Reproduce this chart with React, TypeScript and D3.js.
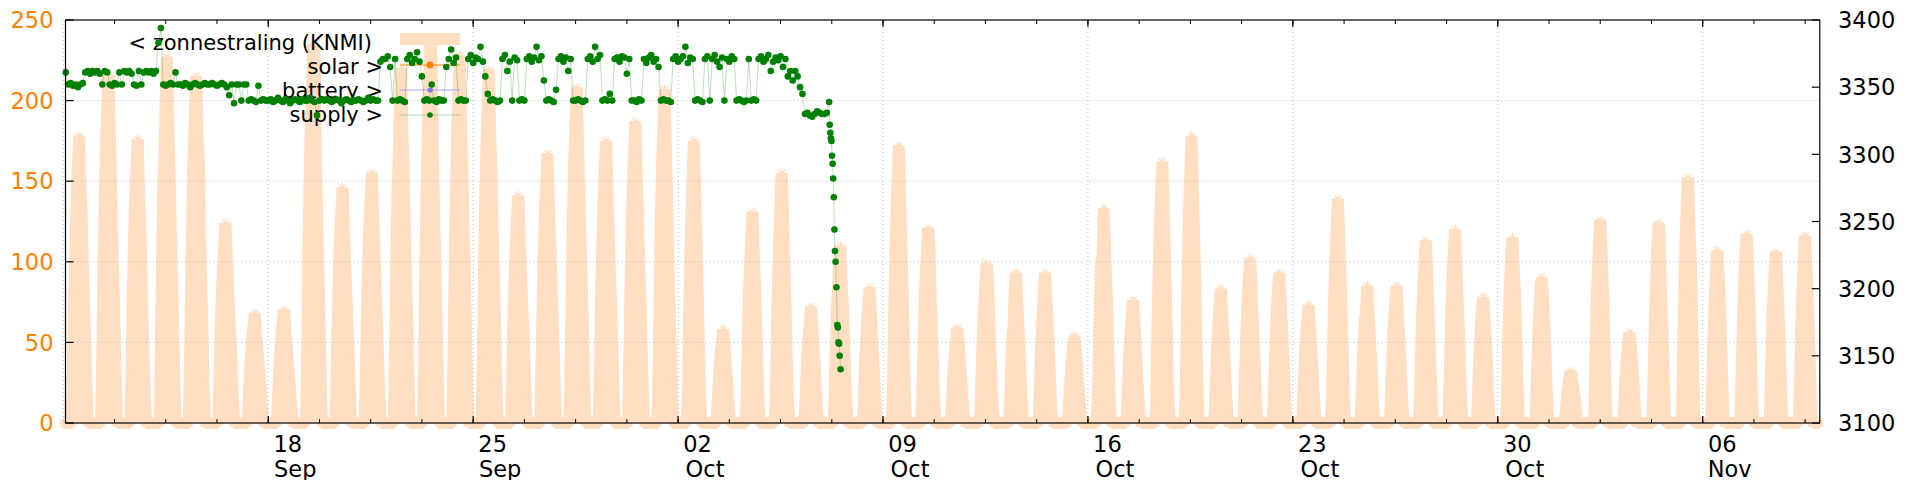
import React from "react";
import * as d3 from "d3";

const DAY = 86400000;
const HOUR = 3600000;
const T0 = Date.UTC(2023, 8, 11);
const T1 = Date.UTC(2023, 10, 10);

const leftTicks = [0, 50, 100, 150, 200, 250];
const rightTicks = [3100, 3150, 3200, 3250, 3300, 3350, 3400];
const gridWeeks = [
  Date.UTC(2023, 8, 11), Date.UTC(2023, 8, 18), Date.UTC(2023, 8, 25), Date.UTC(2023, 9, 2),
  Date.UTC(2023, 9, 9), Date.UTC(2023, 9, 16), Date.UTC(2023, 9, 23), Date.UTC(2023, 9, 30),
  Date.UTC(2023, 10, 6),
];
const dayLabels = ["", "18", "25", "02", "09", "16", "23", "30", "06"];
const monthLabels = ["", "Sep", "Sep", "Oct", "Oct", "Oct", "Oct", "Oct", "Nov"];
const legendLabels = ["< zonnestraling (KNMI)", "solar >", "battery >", "supply >"];

// KNMI radiation, hourly values for hours 07..20 of each day (Sep 11 .. Nov 9)
const SOLAR_START_HOUR = 7;
const solarDays: number[][] = [
  [0, 36, 80, 103, 142, 160, 178, 146, 132, 98, 74, 50, 21, 0],
  [0, 43, 97, 140, 173, 194, 216, 185, 151, 119, 91, 60, 26, 0],
  [0, 35, 79, 114, 141, 158, 176, 144, 123, 97, 60, 37, 15, 0],
  [0, 45, 102, 148, 162, 204, 227, 186, 159, 125, 95, 64, 27, 0],
  [0, 43, 97, 140, 172, 194, 215, 176, 167, 118, 90, 60, 26, 0],
  [0, 25, 56, 81, 99, 112, 124, 102, 87, 68, 53, 35, 15, 0],
  [0, 14, 31, 44, 54, 60, 68, 56, 48, 37, 29, 19, 8, 0],
  [0, 14, 32, 46, 56, 63, 70, 57, 49, 39, 29, 20, 8, 0],
  [0, 47, 106, 153, 188, 212, 235, 225, 165, 129, 99, 66, 28, 0],
  [0, 29, 66, 95, 117, 131, 146, 120, 102, 80, 61, 41, 18, 0],
  [0, 31, 70, 101, 124, 140, 155, 127, 109, 85, 65, 43, 19, 0],
  [0, 44, 99, 143, 165, 198, 220, 180, 154, 121, 92, 62, 26, 0],
  [0, 47, 106, 153, 188, 212, 235, 225, 165, 129, 99, 66, 28, 0],
  [0, 46, 103, 148, 182, 205, 228, 187, 160, 125, 96, 64, 27, 0],
  [0, 44, 99, 142, 175, 197, 219, 180, 153, 120, 92, 61, 26, 0],
  [0, 28, 63, 92, 113, 127, 141, 116, 99, 78, 59, 39, 17, 0],
  [0, 33, 75, 109, 134, 150, 167, 137, 117, 92, 70, 47, 20, 0],
  [0, 42, 94, 135, 166, 187, 208, 171, 146, 114, 87, 58, 25, 0],
  [0, 35, 79, 114, 140, 158, 175, 144, 123, 96, 74, 49, 21, 0],
  [0, 37, 84, 122, 150, 168, 187, 153, 131, 103, 79, 52, 22, 0],
  [0, 35, 88, 130, 162, 184, 207, 170, 140, 104, 75, 45, 15, 0],
  [0, 14, 61, 102, 131, 154, 175, 144, 116, 84, 49, 18, 0, 0],
  [0, 5, 20, 34, 44, 51, 58, 48, 38, 28, 16, 6, 0, 0],
  [0, 10, 46, 76, 98, 115, 131, 107, 86, 63, 37, 13, 0, 0],
  [0, 12, 54, 90, 116, 136, 155, 127, 102, 74, 43, 16, 0, 0],
  [0, 6, 25, 42, 54, 63, 72, 59, 48, 35, 20, 7, 0, 0],
  [0, 9, 39, 64, 83, 97, 110, 90, 73, 53, 31, 11, 0, 0],
  [0, 7, 29, 49, 63, 74, 84, 69, 55, 40, 24, 8, 0, 0],
  [0, 14, 60, 100, 129, 151, 172, 141, 114, 83, 48, 17, 0, 0],
  [0, 10, 42, 70, 91, 106, 121, 110, 80, 58, 34, 12, 0, 0],
  [0, 5, 21, 34, 44, 52, 59, 48, 39, 28, 17, 6, 0, 0],
  [0, 8, 35, 57, 74, 87, 99, 89, 65, 48, 28, 10, 0, 0],
  [0, 7, 33, 54, 59, 82, 93, 76, 61, 45, 26, 9, 0, 0],
  [0, 7, 33, 54, 70, 82, 93, 76, 61, 45, 26, 9, 0, 0],
  [0, 4, 19, 31, 41, 48, 54, 44, 36, 26, 15, 5, 0, 0],
  [0, 11, 47, 77, 100, 105, 133, 109, 88, 64, 37, 13, 0, 0],
  [0, 6, 27, 44, 57, 67, 76, 62, 50, 36, 21, 8, 0, 0],
  [0, 13, 57, 94, 122, 143, 162, 133, 107, 78, 45, 16, 0, 0],
  [0, 14, 62, 103, 134, 157, 178, 146, 117, 85, 50, 18, 0, 0],
  [0, 7, 29, 48, 62, 73, 83, 68, 55, 40, 23, 8, 0, 0],
  [0, 8, 36, 59, 77, 90, 102, 84, 67, 49, 29, 10, 0, 0],
  [0, 7, 33, 54, 70, 85, 93, 76, 61, 45, 26, 9, 0, 0],
  [0, 6, 26, 42, 55, 64, 73, 60, 48, 35, 20, 7, 0, 0],
  [0, 11, 49, 81, 104, 122, 139, 114, 92, 67, 39, 14, 0, 0],
  [0, 7, 30, 49, 64, 70, 85, 70, 56, 41, 24, 9, 0, 0],
  [0, 7, 30, 49, 64, 75, 85, 70, 56, 41, 24, 9, 0, 0],
  [0, 9, 40, 66, 85, 99, 113, 93, 75, 54, 32, 11, 0, 0],
  [0, 10, 42, 70, 90, 106, 120, 98, 79, 58, 34, 12, 0, 0],
  [0, 23, 43, 59, 70, 78, 66, 55, 39, 20, 3, 0, 0, 0],
  [0, 35, 63, 86, 104, 115, 98, 81, 58, 29, 5, 0, 0, 0],
  [0, 27, 50, 68, 81, 90, 77, 63, 45, 23, 4, 0, 0, 0],
  [0, 9, 18, 24, 29, 32, 27, 22, 16, 8, 1, 0, 0, 0],
  [0, 38, 69, 95, 113, 126, 107, 88, 63, 32, 5, 0, 0, 0],
  [0, 17, 31, 42, 50, 56, 48, 39, 28, 14, 2, 0, 0, 0],
  [0, 37, 68, 93, 112, 124, 105, 74, 62, 31, 5, 0, 0, 0],
  [0, 46, 84, 114, 137, 152, 122, 106, 76, 38, 6, 0, 0, 0],
  [0, 32, 59, 80, 96, 107, 91, 77, 54, 27, 4, 0, 0, 0],
  [0, 35, 64, 88, 105, 117, 99, 82, 59, 29, 5, 0, 0, 0],
  [0, 32, 58, 80, 95, 106, 90, 74, 53, 27, 4, 0, 0, 0],
  [0, 35, 64, 87, 104, 116, 96, 81, 58, 29, 5, 0, 0, 0],
];

// supply (right axis), values every 2 hours (00,02,..,22) per day from Sep 11
const supplyDays: (number | null)[][] = [
  [null, 3361, 3352, 3353, 3351, 3352, 3350, 3352, 3353, 3361, 3362, 3360],
  [3362, 3361, 3362, 3360, 3352, 3362, 3361, 3352, 3351, 3353, 3352, 3361],
  [3352, 3362, 3361, 3362, 3360, 3352, 3351, 3362, 3352, 3361, 3362, 3361],
  [3362, 3360, 3362, 3383, 3394, 3352, 3351, 3352, 3353, 3352, 3361, 3352],
  [3352, 3351, 3353, 3352, 3350, 3352, 3353, 3352, 3351, 3352, 3353, 3352],
  [3352, 3353, 3352, 3351, 3352, 3353, 3352, 3350, 3344, 3352, 3338, 3352],
  [3352, 3340, 3352, 3352, 3340, 3341, 3340, 3339, 3351, 3340, 3341, 3340],
  [3340, 3341, 3339, 3340, 3342, 3340, 3339, 3341, 3340, 3338, 3340, 3341],
  [3340, 3339, 3341, 3340, 3340, 3342, 3340, 3339, 3329, 3340, 3341, 3340],
  [3341, 3340, 3339, 3340, 3341, 3340, 3338, 3340, 3341, 3340, 3339, 3340],
  [3340, 3341, 3340, 3339, 3340, 3342, 3340, 3341, 3340, 3340, 3369, 3371],
  [3371, 3373, 3365, 3340, 3371, 3340, 3341, 3340, 3339, 3371, 3374, 3368],
  [3371, 3376, 3369, 3358, 3340, 3341, 3340, 3352, 3340, 3339, 3341, 3340],
  [3340, 3365, 3371, 3378, 3368, 3372, 3340, 3341, 3340, 3340, 3371, 3374],
  [3368, 3372, 3371, 3380, 3369, 3358, 3345, 3340, 3341, 3340, 3339, 3340],
  [3371, 3374, 3362, 3369, 3340, 3372, 3370, 3340, 3341, 3340, 3371, 3373],
  [3369, 3372, 3380, 3370, 3373, 3355, 3340, 3341, 3340, 3339, 3348, 3371],
  [3373, 3369, 3372, 3362, 3371, 3340, 3340, 3341, 3340, 3339, 3340, 3371],
  [3373, 3369, 3380, 3371, 3374, 3340, 3341, 3340, 3345, 3340, 3371, 3372],
  [3369, 3373, 3372, 3360, 3371, 3340, 3340, 3339, 3341, 3340, 3371, 3368],
  [3372, 3374, 3369, 3371, 3365, 3340, 3341, 3340, 3340, 3339, 3371, 3373],
  [3369, 3371, 3373, 3380, 3368, 3372, 3371, 3340, 3341, 3340, 3339, 3371],
  [3373, 3340, 3371, 3374, 3369, 3365, 3372, 3340, 3371, 3369, 3373, 3371],
  [3340, 3341, 3340, 3339, 3340, 3371, 3340, 3341, 3340, 3371, 3373, 3369],
  [3371, 3374, 3362, 3369, 3372, 3370, 3373, 3365, 3371, 3358, 3362, 3355],
  [3362, 3358, 3350, 3345, 3330, 3331, 3329, 3328, 3330, 3332, 3331, 3330],
];
// final part (day offset from Sep 11 00:00, value)
const supplyDrop: [number, number][] = [
  [26.0, 3330], [26.08, 3331], [26.16, 3339], [26.18, 3322], [26.2, 3316], [26.22, 3312],
  [26.24, 3310], [26.26, 3299], [26.28, 3293], [26.3, 3282], [26.32, 3268], [26.34, 3244],
  [26.36, 3228], [26.38, 3220], [26.41, 3201], [26.44, 3173], [26.46, 3171], [26.48, 3160],
  [26.5, 3159], [26.52, 3150], [26.55, 3140],
];

const PEACH = "#ffdec2";
const ORANGE = "#ff7f00";
const GREEN = "#008000";
const FONT = "DejaVu Sans, sans-serif";

export default function App() {
  const left = 63.3, right = 1819.8, top = 20, bottom = 423, borderLeft = 65.5;
  const x = d3.scaleUtc().domain([T0, T1]).range([left, right]);
  const yL = d3.scaleLinear().domain([0, 250]).range([bottom, top]);
  const yR = d3.scaleLinear().domain([3100, 3400]).range([bottom, top]);

  const solar: [number, number][] = [];
  solarDays.forEach((arr, k) => {
    for (let h = 0; h < 24; h++) {
      const i = h - SOLAR_START_HOUR;
      const v = i >= 0 && i < arr.length ? arr[i] : 0;
      solar.push([T0 + k * DAY + h * HOUR, v]);
    }
  });
  solar.push([T1, 0]);

  const supply: [number, number][] = [];
  supplyDays.forEach((arr, k) => {
    arr.forEach((v, i) => {
      if (v != null) supply.push([T0 + k * DAY + i * 2 * HOUR, v]);
    });
  });
  supplyDrop.forEach(([d, v]) => supply.push([T0 + d * DAY, v]));

  const solarLine = d3.line<[number, number]>().x((d) => x(d[0])).y((d) => yL(d[1]));
  const solarArea = d3.area<[number, number]>().x((d) => x(d[0])).y0(yL(0)).y1((d) => yL(d[1]));
  const supplyLine = d3.line<[number, number]>().x((d) => x(d[0])).y((d) => yR(d[1]));

  const star = "M-5,0H5M0,-5V5M-3.5,-3.5L3.5,3.5M-3.5,3.5L3.5,-3.5";
  const minor = d3.range(0, 60.01, 1.75).map((k) => T0 + k * DAY).filter((t) => x(t) > borderLeft + 1 && x(t) < right - 1);

  return (
    <svg width={1920} height={480} style={{ position: "absolute", left: 0, top: 0, background: "#fff" }} fontFamily={FONT}>
      {/* solar */}
      <path d={solarArea(solar) || ""} fill={PEACH} />
      <path d={solarLine(solar) || ""} fill="none" stroke={PEACH} strokeWidth={12} strokeLinejoin="bevel" />
      {solar.map((d, i) => (
        <path key={i} d={star} transform={`translate(${x(d[0])},${yL(d[1])})`} stroke={PEACH} strokeWidth={1.2} fill="none" />
      ))}

      {/* grid */}
      {gridWeeks.map((t, i) => (
        <line key={"gx" + i} x1={x(t)} x2={x(t)} y1={top} y2={bottom} stroke="#bdbdbd" strokeWidth={1} strokeDasharray="1,3" />
      ))}
      {leftTicks.filter((v) => v > 0 && v < 250).map((v) => (
        <line key={"gy" + v} x1={borderLeft} x2={right} y1={yL(v)} y2={yL(v)} stroke="#bdbdbd" strokeWidth={1} strokeDasharray="1,3" />
      ))}

      {/* legend */}
      <g fontSize={21} textAnchor="end" fill="#000">
        <text x={372} y={49.5}>{legendLabels[0]}</text>
        <text x={383} y={73.8}>{legendLabels[1]}</text>
        <text x={383} y={98.1}>{legendLabels[2]}</text>
        <text x={383} y={122.4}>{legendLabels[3]}</text>
      </g>
      <line x1={400} x2={460} y1={39} y2={39} stroke={PEACH} strokeWidth={12} />
      <line x1={400} x2={460} y1={65} y2={65} stroke={ORANGE} strokeWidth={1} />
      <circle cx={430} cy={65} r={3.4} fill={ORANGE} />
      <line x1={400} x2={460} y1={90} y2={90} stroke="#a0a0ff" strokeWidth={1} />
      <circle cx={430} cy={90} r={2.6} fill="#8080ff" />
      <line x1={400} x2={460} y1={115} y2={115} stroke="rgba(0,128,0,0.3)" strokeWidth={1} />
      <circle cx={430} cy={115} r={2.8} fill={GREEN} />

      {/* supply */}
      <path d={supplyLine(supply) || ""} fill="none" stroke="rgba(0,128,0,0.25)" strokeWidth={1} />
      {supply.map((d, i) => (
        <circle key={"s" + i} cx={x(d[0])} cy={yR(d[1])} r={3.3} fill={GREEN} />
      ))}

      {/* border */}
      <rect x={borderLeft} y={top} width={right - borderLeft} height={bottom - top} fill="none" stroke="#000" strokeWidth={1.2} />

      {/* x ticks */}
      {minor.map((t, i) => (
        <g key={"mn" + i}>
          <line x1={x(t)} x2={x(t)} y1={bottom} y2={bottom - 4} stroke="#000" />
          <line x1={x(t)} x2={x(t)} y1={top} y2={top + 4} stroke="#000" />
        </g>
      ))}
      {gridWeeks.slice(1).map((t, i) => (
        <g key={"mj" + i}>
          <line x1={x(t)} x2={x(t)} y1={bottom} y2={bottom - 7} stroke="#000" strokeWidth={1.2} />
          <line x1={x(t)} x2={x(t)} y1={top} y2={top + 7} stroke="#000" strokeWidth={1.2} />
          <text x={x(t) + 19.5} y={451.5} fontSize={22.5} textAnchor="middle" fill="#000">{dayLabels[i + 1]}</text>
          <text x={x(t) + 27} y={477} fontSize={22.5} textAnchor="middle" fill="#000">{monthLabels[i + 1]}</text>
        </g>
      ))}

      {/* left axis */}
      {leftTicks.map((v) => (
        <g key={"l" + v}>
          <line x1={borderLeft} x2={borderLeft + 8} y1={yL(v)} y2={yL(v)} stroke="#000" strokeWidth={1.2} />
          <text x={53.5} y={yL(v) + 8.2} fontSize={22.5} textAnchor="end" fill={ORANGE}>{v}</text>
        </g>
      ))}
      {/* right axis */}
      {rightTicks.map((v) => (
        <g key={"r" + v}>
          <line x1={right - 8} x2={right} y1={yR(v)} y2={yR(v)} stroke="#000" strokeWidth={1.2} />
          <text x={1838} y={yR(v) + 8.2} fontSize={22.5} textAnchor="start" fill="#000">{v}</text>
        </g>
      ))}
    </svg>
  );
}
